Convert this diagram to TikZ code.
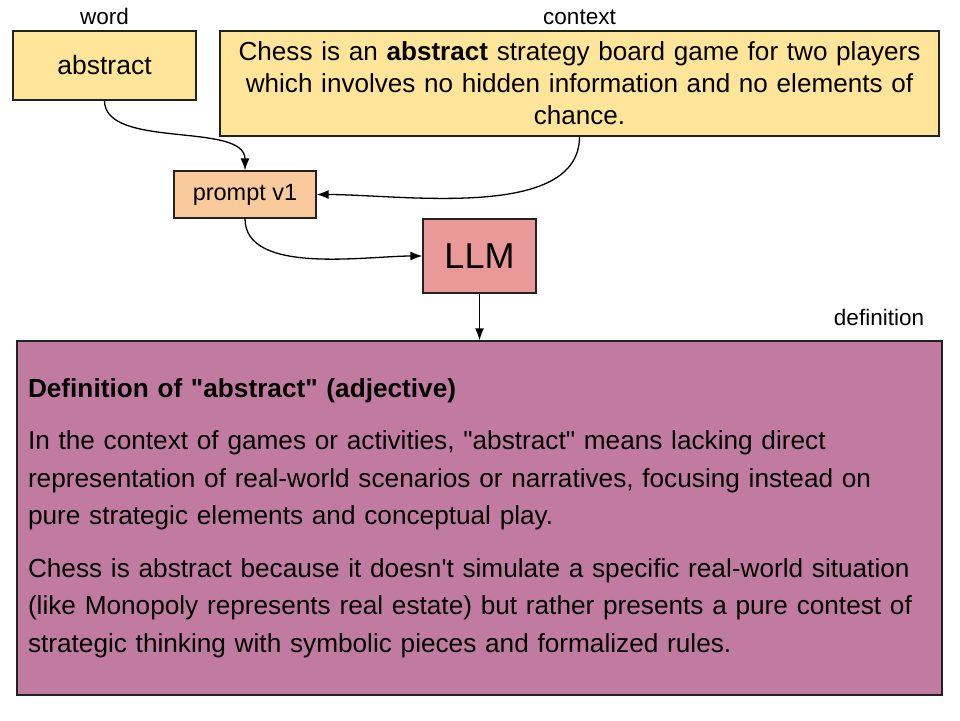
\documentclass[tikz,border=0pt]{standalone}
\usepackage{fontspec}
\setmainfont{Liberation Sans}
\usepackage{tikz}
\usetikzlibrary{positioning,arrows.meta}
\definecolor{wordfill}{HTML}{FFE599}
\definecolor{promptfill}{HTML}{F9CB9C}
\definecolor{llmfill}{HTML}{EA9999}
\definecolor{deffill}{HTML}{C27BA0}
\definecolor{edge}{HTML}{222222}
\newcommand{\dq}{\textquotedbl}
\newcommand{\sq}{\textquotesingle}
\tikzset{
  box/.style={rectangle, draw=edge, line width=1.2pt, inner sep=0pt, align=center},
  lbl/.style={font=\fontsize{22.5}{26}\selectfont, inner sep=1pt},
  arr/.style={-{Latex[length=12pt, width=9pt]}, line width=1.3pt, draw=black},
}
\begin{document}
\begin{tikzpicture}[x=1pt, y=-1pt]
    \useasboundingbox (0,0) rectangle (960,720);
    \node[box, fill=wordfill, minimum width=183pt, minimum height=69pt,
          font=\fontsize{26.5}{30}\selectfont] (word) at (104.5,65.5) {abstract};
    \node[lbl, above=4pt of word] (wordlbl) {word};
    \node[box, fill=wordfill, minimum width=719pt, minimum height=105pt, text width=705pt,
          font=\fontsize{26.1}{32}\selectfont] (context) at (579.5,83.5)
      {Chess is an \textbf{abstract} strategy board game for two players\\
       which involves no hidden information and no elements of\\ chance.};
    \node[lbl, above=4pt of context] (contextlbl) {context};
    \node[box, fill=promptfill, minimum width=142pt, minimum height=47pt,
          font=\fontsize{23.5}{26}\selectfont] (prompt) at (245,194.5) {prompt v1};
    \node[box, fill=llmfill, minimum width=113pt, minimum height=74pt,
          font=\fontsize{36}{40}\selectfont] (llm) at (479.5,256) {LLM};
    \node[box, fill=deffill, minimum width=925pt, minimum height=354pt, text width=903pt,
          align=left, font=\fontsize{26.2}{37.5}\selectfont] (defn) at (479.5,518)
      {\textbf{Definition of \dq abstract\dq\ (adjective)}\\[15pt]
       In the context of games or activities, \dq abstract\dq\ means lacking direct\\
       representation of real-world scenarios or narratives, focusing instead on\\
       pure strategic elements and conceptual play.\\[15pt]
       Chess is abstract because it doesn\sq t simulate a specific real-world situation\\
       (like Monopoly represents real estate) but rather presents a pure contest of\\
       strategic thinking with symbolic pieces and formalized rules.};
    \node[lbl] (defnlbl) at (879,317) {definition};
    \draw[arr] (word.south) to[out=-90, in=90, looseness=0.8] (prompt.north);
    \draw[arr] (context.south) to[out=-90, in=0, looseness=0.8] (prompt.east);
    \draw[arr] (prompt.south) to[out=-90, in=180, looseness=0.8] (llm.west);
    \draw[arr] (llm) -- (defn);
\end{tikzpicture}
\end{document}
